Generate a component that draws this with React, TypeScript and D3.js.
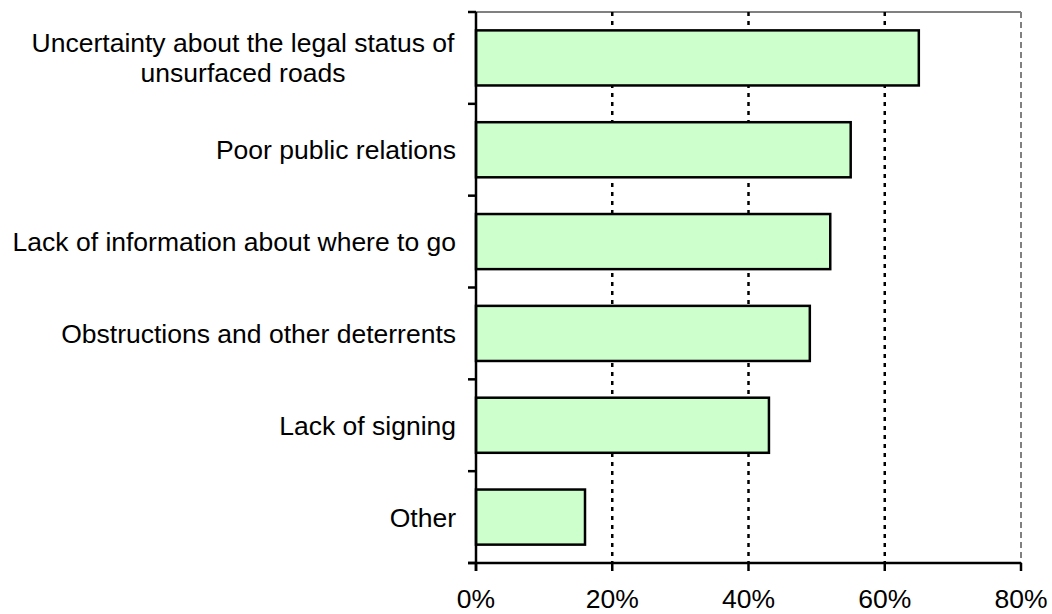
import React from "react";
import * as d3 from "d3";

const categories = [
  "Uncertainty about the legal status of unsurfaced roads",
  "Poor public relations",
  "Lack of information about where to go",
  "Obstructions and other deterrents",
  "Lack of signing",
  "Other",
];
const labelLines: string[][] = [
  ["Uncertainty about the legal status of", "unsurfaced roads"],
  ["Poor public relations"],
  ["Lack of information about where to go"],
  ["Obstructions and other deterrents"],
  ["Lack of signing"],
  ["Other"],
];
const values = [65, 55, 52, 49, 43, 16];
const xTicks = [0, 20, 40, 60, 80];

const W = 1052;
const H = 614;
const left = 476;
const right = 1021;
const top = 12;
const bottom = 563;
const font = "'Liberation Sans', Arial, sans-serif";
const fs = 26.5;

export default function App() {
  const x = d3.scaleLinear().domain([0, 80]).range([left, right]);
  const y = d3
    .scaleBand<string>()
    .domain(categories)
    .range([top, bottom])
    .paddingInner(0.4)
    .paddingOuter(0.2);
  const step = (bottom - top) / categories.length;
  const boundaries = d3.range(categories.length + 1).map((i) => top + i * step);

  return (
    <svg
      width={W}
      height={H}
      style={{ position: "absolute", left: 0, top: 0, background: "#fff" }}
      fontFamily={font}
    >
      <line x1={left} x2={right} y1={top} y2={top} stroke="#808080" strokeWidth={2} />
      <line x1={right} x2={right} y1={top} y2={bottom} stroke="#808080" strokeWidth={2} strokeDasharray="6,4" />
      {xTicks
        .filter((t) => t > 0 && t < 80)
        .map((t) => (
          <line
            key={t}
            x1={x(t)}
            x2={x(t)}
            y1={top}
            y2={bottom}
            stroke="#000"
            strokeWidth={2.5}
            strokeDasharray="4,5"
          />
        ))}
      {categories.map((c, i) => (
        <rect
          key={c}
          x={x(0)}
          y={y(c)!}
          width={x(values[i]) - x(0)}
          height={y.bandwidth()}
          fill="#CCFFCC"
          stroke="#000"
          strokeWidth={2.5}
        />
      ))}
      <line x1={left} x2={left} y1={top} y2={bottom + 8} stroke="#000" strokeWidth={2.5} />
      {boundaries.map((b, i) => (
        <line key={i} x1={left - 8} x2={left} y1={b} y2={b} stroke="#000" strokeWidth={2.5} />
      ))}
      <line x1={left - 8} x2={right} y1={bottom} y2={bottom} stroke="#000" strokeWidth={2.5} />
      {xTicks.map((t) => (
        <g key={t}>
          <line x1={x(t)} x2={x(t)} y1={bottom} y2={bottom + 8} stroke="#000" strokeWidth={2.5} />
          <text x={x(t)} y={608} textAnchor="middle" fontSize={fs} fill="#000">
            {t}%
          </text>
        </g>
      ))}
      {categories.map((c, i) => {
        const cy = y(c)! + y.bandwidth() / 2;
        const lines = labelLines[i];
        if (lines.length > 1) {
          return (
            <text key={c} textAnchor="middle" fontSize={fs} fill="#000">
              <tspan x={243} y={cy - 6}>{lines[0]}</tspan>
              <tspan x={243} y={cy + 24}>{lines[1]}</tspan>
            </text>
          );
        }
        return (
          <text key={c} x={456} y={cy + 9.5} textAnchor="end" fontSize={fs} fill="#000">
            {lines[0]}
          </text>
        );
      })}
    </svg>
  );
}
